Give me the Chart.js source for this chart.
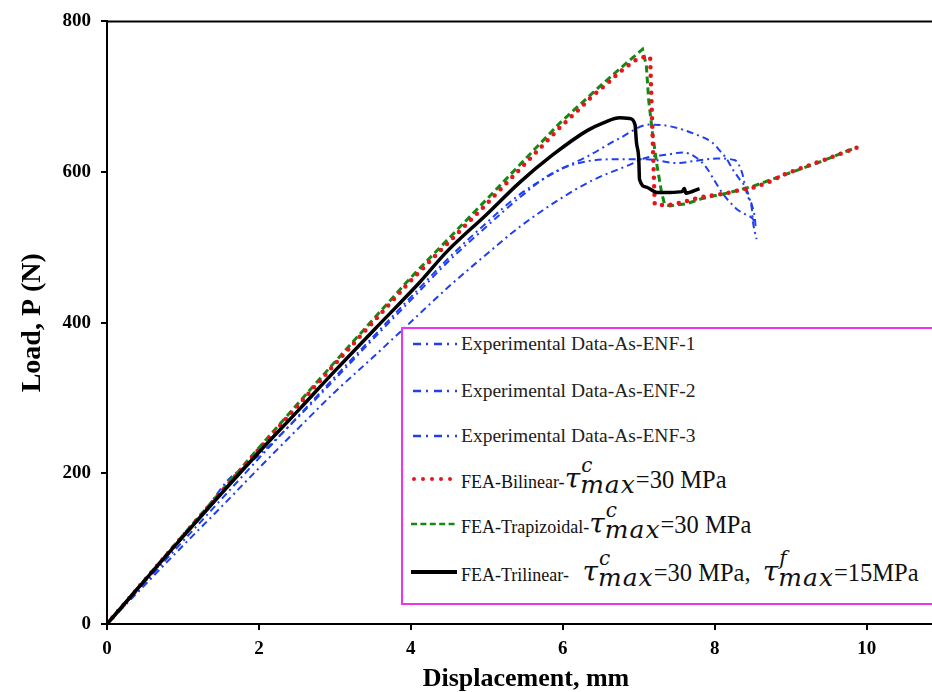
<!DOCTYPE html>
<html>
<head>
<meta charset="utf-8">
<script src="https://cdn.jsdelivr.net/npm/chart.js@4.4.1/dist/chart.umd.min.js"></script>
<style>
  html, body { margin: 0; padding: 0; background: #fff; overflow: hidden; }
  #wrap { position: relative; width: 932px; height: 692px; }
  #key {
    position: absolute; left: 401px; top: 327px; width: 560px; height: 274px;
    border: 2px solid #ee33ee; background: #fff; box-sizing: content-box;
  }
  .row {
    position: absolute; left: 8px; display: flex; align-items: baseline;
    font-family: "Liberation Serif", serif; color: #111; white-space: nowrap;
  }
  .row svg { align-self: center; margin-right: 2px; }
  .exp { font-size: 19.5px; color: #222; }
  .fea { font-size: 18px; }
  .tau { font: italic 28px "DejaVu Serif", serif; }
  .ss { position: relative; display: inline-block; font: italic 25px "DejaVu Serif", serif; line-height: 1; }
  .ss .sub { position: relative; top: 5px; letter-spacing: 1px; }
  .ss .sup { position: absolute; left: 1px; top: -12px; font-size: 20px; }
  .val { font-size: 24.5px; }
</style>
</head>
<body>
<div id="wrap">
  <canvas id="loadChart" width="932" height="692"></canvas>
  <div id="key"></div>
</div>
<script>
// load-displacement curves, [displacement mm, load N]
const enf1 = [[0,0],[0.5,55],[1,110],[1.5,165],[2,220],[2.5,274],[3,328],[3.5,381],[4,434],[4.5,486],[5,533],[5.43,570],[5.96,603],[6.31,620],[6.75,645],[7.14,663],[7.4,661],[7.8,648],[7.97,639],[8.07,628],[8.16,617],[8.24,603],[8.33,590],[8.42,577],[8.46,564],[8.49,550],[8.5,537],[8.55,511]];
const enf2 = [[0,0],[0.5,57],[1,116],[1.3,152],[1.6,192],[1.8,208],[2,224],[2.5,273],[3,325],[3.5,378],[4,430],[4.5,482],[5,528],[5.43,566],[5.87,599],[6.3,614],[6.75,617],[7.1,617],[7.5,612],[7.76,615],[8.03,618],[8.26,616],[8.36,599],[8.39,586],[8.43,569],[8.49,556],[8.53,537],[8.54,524]];
const enf3 = [[0,0],[0.5,52],[1,104],[1.5,155],[2,207],[2.54,262],[3,308],[3.5,354],[4,401],[4.5,448],[4.95,487],[5.43,527],[5.96,564],[6.39,589],[6.84,608],[7.1,619],[7.37,623],[7.58,626],[7.76,619],[7.89,606],[8.0,588],[8.1,572],[8.2,560],[8.3,550],[8.42,543],[8.5,538],[8.53,532]];
const bilinear = [[0,0],[1,117],[2,232],[3,345],[4,456],[5,558],[5.96,659],[6.22,684],[6.39,701],[6.58,717],[6.75,733],[6.95,748],[7.1,754],[7.15,752],[7.21,557],[7.34,556],[7.45,557],[7.58,560],[7.71,564],[7.89,568],[8.03,570],[8.16,572],[8.37,577],[8.5,579],[8.72,587],[8.94,598],[9.16,606],[9.38,614],[9.6,622],[9.83,631],[9.95,635]];
const trapezoidal = [[0,0],[1,118],[2,234],[3,348],[4,460],[5,564],[5.96,665],[6.49,714],[6.84,745],[7.05,763],[7.1,741],[7.13,696],[7.18,652],[7.24,609],[7.3,573],[7.34,557],[7.41,555],[7.63,558],[7.84,565],[8.16,572],[8.5,581],[8.8,592],[9.1,603],[9.4,614],[9.72,627],[9.85,632]];
const trilinear = [[0,0],[1,116],[2,228],[2.54,286],[3,336],[3.53,392],[4.12,454],[4.47,494],[5,544],[5.43,586],[5.87,623],[6.32,655],[6.55,666],[6.75,672],[6.88,671],[6.95,663],[6.97,639],[7.0,617],[7.01,590],[7.1,580],[7.24,573],[7.41,573],[7.57,574],[7.6,578],[7.62,572],[7.8,578]];

const expNames = ['Experimental Data-As-ENF-1', 'Experimental Data-As-ENF-2', 'Experimental Data-As-ENF-3'];
const feaNames = ['FEA-Bilinear-', 'FEA-Trapizoidal-', 'FEA-Trilinear-'];

const xTicksMax = 10.86;
const yTicksMax = 800;

const BLUE = '#1f3ff0', RED = '#e8141c', GREEN = '#138a13';
const dashDot = [7, 4, 2, 4];

function pts(arr) { return arr.map(p => ({x: p[0], y: p[1]})); }

function expSet(arr, label) {
  return {
    label: label, data: pts(arr), showLine: true, pointRadius: 0,
    borderColor: BLUE, borderWidth: 2, borderDash: dashDot,
    cubicInterpolationMode: 'monotone', order: 3
  };
}

// top edge of the plot frame
const frameTop = {
  id: 'frameTop',
  afterDraw(chart) {
    const {ctx, chartArea} = chart;
    ctx.save();
    ctx.strokeStyle = '#000';
    ctx.lineWidth = 2;
    ctx.beginPath();
    ctx.moveTo(chartArea.left, chartArea.top);
    ctx.lineTo(chartArea.right, chartArea.top);
    ctx.stroke();
    ctx.restore();
  }
};

const tickFont = {family: 'Liberation Serif', size: 19, weight: 'bold'};

new Chart(document.getElementById('loadChart').getContext('2d'), {
  type: 'scatter',
  data: {
    datasets: [
      {
        label: feaNames[2], data: pts(trilinear), showLine: true, pointRadius: 0,
        borderColor: '#000', borderWidth: 3.5, cubicInterpolationMode: 'monotone', order: 0
      },
      {
        label: feaNames[0], data: pts(bilinear), showLine: true, pointRadius: 0,
        borderColor: RED, borderWidth: 4.5, borderDash: [0, 8.5], borderCapStyle: 'round', order: 1
      },
      {
        label: feaNames[1], data: pts(trapezoidal), showLine: true, pointRadius: 0,
        borderColor: GREEN, borderWidth: 3, borderDash: [7, 4], order: 2
      },
      expSet(enf1, expNames[0]),
      expSet(enf2, expNames[1]),
      expSet(enf3, expNames[2])
    ]
  },
  options: {
    responsive: false,
    animation: false,
    devicePixelRatio: 1,
    layout: {padding: {top: 18, right: 0, bottom: 0, left: 0}},
    plugins: {legend: {display: false}, tooltip: {enabled: false}},
    scales: {
      x: {
        type: 'linear', min: 0, max: xTicksMax,
        ticks: {stepSize: 2, includeBounds: false, color: '#000', font: tickFont, padding: 8, maxRotation: 0},
        grid: {drawOnChartArea: false, drawTicks: true, tickLength: 6, color: '#000', lineWidth: 2},
        border: {display: true, color: '#000', width: 2},
        title: {
          display: true, text: '  Displacement, mm', color: '#000',
          font: {family: 'Liberation Serif', size: 26, weight: 'bold', lineHeight: 1},
          padding: {top: 0, bottom: 0}
        },
        afterFit(scale) { scale.height = 68; }
      },
      y: {
        min: 0, max: yTicksMax,
        ticks: {stepSize: 200, color: '#000', font: tickFont, padding: 10},
        grid: {drawOnChartArea: false, drawTicks: true, tickLength: 6, color: '#000', lineWidth: 2},
        border: {display: true, color: '#000', width: 2},
        title: {
          display: true, text: 'Load, P (N)', color: '#000',
          font: {family: 'Liberation Serif', size: 28, weight: 'bold', lineHeight: 1.2},
          padding: {top: 16, bottom: 0}
        },
        afterFit(scale) { scale.width = 107; }
      }
    }
  },
  plugins: [frameTop]
});

// legend box with the line samples and the shear-strength notation
function sample(kind) {
  const s = {
    exp: `<line x1="2" y1="5" x2="46" y2="5" stroke="${BLUE}" stroke-width="2.5" stroke-dasharray="8 5 2 6"/>`,
    bi: `<line x1="3" y1="5" x2="44" y2="5" stroke="${RED}" stroke-width="4" stroke-linecap="round" stroke-dasharray="0 9"/>`,
    trap: `<line x1="0" y1="5" x2="46" y2="5" stroke="${GREEN}" stroke-width="2.5" stroke-dasharray="6 3.4"/>`,
    tri: `<line x1="0" y1="5" x2="46" y2="5" stroke="#000" stroke-width="4"/>`
  }[kind];
  return `<svg width="48" height="10">${s}</svg>`;
}
function tauMax(sup) {
  return `<span class="tau">τ</span><span class="ss"><span class="sup">${sup}</span><span class="sub">max</span></span>`;
}

const key = document.getElementById('key');
const rowTops = [4, 51, 96, 133, 178, 226];
const rows = [
  sample('exp') + `<span class="exp">${expNames[0]}</span>`,
  sample('exp') + `<span class="exp">${expNames[1]}</span>`,
  sample('exp') + `<span class="exp">${expNames[2]}</span>`,
  sample('bi') + `<span class="fea">${feaNames[0]}</span>` + tauMax('c') + `<span class="val">=30 MPa</span>`,
  sample('trap') + `<span class="fea">${feaNames[1]}</span>` + tauMax('c') + `<span class="val">=30 MPa</span>`,
  sample('tri') + `<span class="fea">${feaNames[2]}&nbsp;&nbsp;&nbsp;</span>` + tauMax('c') +
    `<span class="val">=30 MPa,&nbsp;&nbsp;</span>` + tauMax('f') + `<span class="val">=15MPa</span>`
];
rows.forEach((html, i) => {
  const d = document.createElement('div');
  d.className = 'row';
  d.style.top = rowTops[i] + 'px';
  d.innerHTML = html;
  key.appendChild(d);
});
</script>
</body>
</html>
